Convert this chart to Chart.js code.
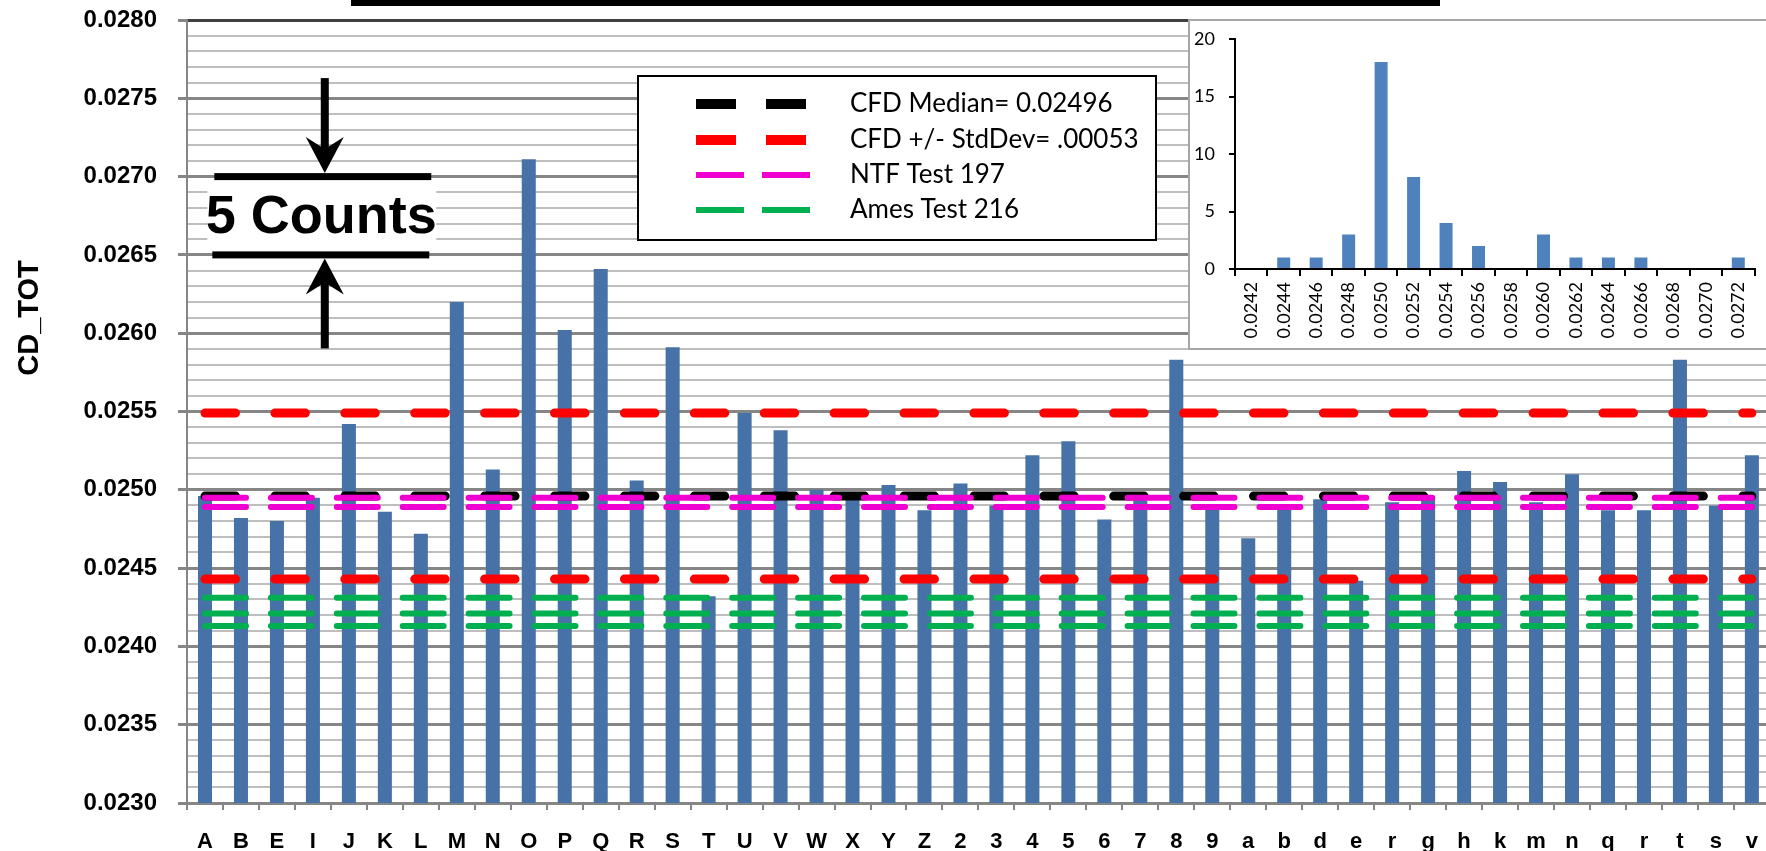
<!DOCTYPE html>
<html>
<head>
<meta charset="utf-8">
<title>CD_TOT by run</title>
<script src="https://cdn.jsdelivr.net/npm/chart.js@4.4.1/dist/chart.umd.min.js"></script>
<style>
html, body { margin: 0; padding: 0; overflow: hidden; background: #fff; }
#wrap { position: relative; width: 1777px; height: 851px; }
#main { position: absolute; left: 0; top: 0; }
#inset-box { position: absolute; left: 1188px; top: 19px; width: 600px; height: 331px;
  background: #fff; border: 2px solid #a6a6a6; box-sizing: border-box; }
#inset { position: absolute; left: 0; top: 0; }
</style>
</head>
<body>
<div id="wrap">
  <canvas id="main" width="1777" height="851"></canvas>
  <div id="inset-box"><canvas id="inset" width="576" height="327"></canvas></div>
</div>
<script>
// run labels along the bottom
const runLabels = ['A', 'B', 'E', 'I', 'J', 'K', 'L', 'M', 'N', 'O', 'P', 'Q', 'R', 'S', 'T', 'U', 'V', 'W', 'X', 'Y', 'Z',
  '2', '3', '4', '5', '6', '7', '8', '9', 'a', 'b', 'd', 'e', 'r', 'g', 'h', 'k', 'm', 'n', 'q', 'r', 't', 's', 'v'];

// CD_TOT per run
const cdTot = [0.02496, 0.02482, 0.02480, 0.02495, 0.02542, 0.02486, 0.02472, 0.02620, 0.02513, 0.02711,
  0.02602, 0.02641, 0.02506, 0.02591, 0.02432, 0.02549, 0.02538, 0.02500, 0.02494, 0.02503, 0.02487,
  0.02504, 0.02490, 0.02522, 0.02531, 0.02481, 0.02493, 0.02583, 0.02491, 0.02469, 0.02490,
  0.02494, 0.02442, 0.02492, 0.02496, 0.02512, 0.02505, 0.02492, 0.02510, 0.02487, 0.02487,
  0.02583, 0.02490, 0.02522];

// reference levels
const cfdMedian = [0.02496];
const cfdStdDevBand = [0.02549, 0.02443];
const ntfTest197 = [0.02495, 0.02489];
const amesTest216 = [0.02431, 0.02421, 0.02413];

const yRange = [0.0230, 0.0280];

// histogram inset
const histBins = ['0.0242', '0.0244', '0.0246', '0.0248', '0.0250', '0.0252', '0.0254', '0.0256',
  '0.0258', '0.0260', '0.0262', '0.0264', '0.0266', '0.0268', '0.0270', '0.0272'];
const histCounts = [0, 1, 1, 3, 18, 8, 4, 2, 0, 3, 1, 1, 1, 0, 0, 1];

const ARIAL = "'Liberation Sans', Arial, sans-serif";
const CALIBRI = "Lato, 'Open Sans', sans-serif";

const isMajor = v => Math.round(v * 10000) % 5 === 0;

// horizontal reference line from the first run to the last
function refLine(label, value, color, width, dash, order, inKey, keyDash) {
    return {
        type: 'line',
        label: label,
        data: [{ x: runLabels[0], y: value }, { x: runLabels[runLabels.length - 1], y: value }],
        borderColor: color,
        borderWidth: width,
        borderDash: dash,
        borderCapStyle: 'round',
        pointRadius: 0,
        fill: false,
        order: order,
        inKey: inKey,
        keyDash: keyDash
    };
}

const datasets = [
    {
        type: 'bar',
        label: 'CD_TOT',
        data: cdTot,
        backgroundColor: '#4672A8',
        barPercentage: 0.39,
        categoryPercentage: 1,
        order: 10
    },
    refLine('CFD Median= 0.02496', cfdMedian[0], '#000000', 9, [30.5, 39.4], 4, true, [40, 30]),
    ...cfdStdDevBand.map((v, i) => refLine('CFD +/- StdDev= .00053', v, '#FF0000', 9, [30.5, 39.4], 3, i === 0, [40, 30])),
    ...ntfTest197.map((v, i) => refLine('NTF Test 197', v, '#F000D0', 6, [41, 24.9], 2, i === 0, [48, 18])),
    ...amesTest216.map((v, i) => refLine('Ames Test 216', v, '#00B050', 6, [41, 24.9], 1, i === 0, [48, 18]))
];

// "5 Counts" marker, x in run-index units, y in CD_TOT units
const countsMark = { text: '5 Counts', from: 0.26, to: 6.29, at: 3.33, textAt: 3.23, hi: 0.0270, lo: 0.0265 };

function drawArrow(ctx, cx, tipY, dir, len) {
    const head = 36, half = 19, notch = 24;
    const a = tipY + dir * notch, b = tipY + dir * len;
    ctx.fillRect(cx - 4, Math.min(a, b), 8, Math.abs(b - a));
    ctx.beginPath();
    ctx.moveTo(cx, tipY);
    ctx.lineTo(cx - half, tipY + dir * head);
    ctx.lineTo(cx, tipY + dir * notch);
    ctx.lineTo(cx + half, tipY + dir * head);
    ctx.closePath();
    ctx.fill();
}

const overlay = {
    id: 'overlay',
    afterDraw(chart) {
        const ctx = chart.ctx;
        const xs = chart.scales.x, ys = chart.scales.y;
        ctx.save();

        // edge of the title box cut off at the top
        ctx.fillStyle = '#000';
        ctx.fillRect(351, 0, 1089, 6);

        // y axis title
        ctx.save();
        ctx.translate(30, 318);
        ctx.rotate(-Math.PI / 2);
        ctx.font = 'bold 29px ' + ARIAL;
        ctx.textAlign = 'center';
        ctx.textBaseline = 'middle';
        ctx.fillText('CD_TOT', 0, 0);
        ctx.restore();

        // 5 counts marker
        const x0 = xs.getPixelForValue(countsMark.from), x1 = xs.getPixelForValue(countsMark.to);
        const cx = xs.getPixelForValue(countsMark.at);
        const yHi = ys.getPixelForValue(countsMark.hi), yLo = ys.getPixelForValue(countsMark.lo);
        ctx.fillStyle = '#fff';
        ctx.fillRect(x0 - 7, yHi + 4, x1 - x0 + 12, yLo - yHi - 8);
        ctx.fillStyle = '#000';
        ctx.fillRect(x0, yHi - 3.5, x1 - x0, 7);
        ctx.fillRect(x0 - 2, yLo - 3.5, x1 - x0, 7);
        ctx.font = 'bold 54px ' + ARIAL;
        ctx.textAlign = 'center';
        ctx.textBaseline = 'middle';
        ctx.fillText(countsMark.text, xs.getPixelForValue(countsMark.textAt), (yHi + yLo) / 2 + 2);
        drawArrow(ctx, cx, yHi - 3.5, -1, 95);
        drawArrow(ctx, cx, yLo + 3.5, 1, 90);

        // key box
        const box = { left: 638, top: 76, right: 1156, bottom: 240 };
        ctx.fillStyle = '#fff';
        ctx.fillRect(box.left, box.top, box.right - box.left, box.bottom - box.top);
        ctx.strokeStyle = '#000';
        ctx.lineWidth = 2;
        ctx.strokeRect(box.left, box.top, box.right - box.left, box.bottom - box.top);
        const rows = [104, 140, 175, 210];
        const items = chart.data.datasets.filter(d => d.inKey);
        ctx.font = '26px ' + CALIBRI;
        ctx.textAlign = 'left';
        ctx.textBaseline = 'middle';
        items.forEach((d, i) => {
            const y = rows[i];
            const [len, gap] = d.keyDash;
            ctx.strokeStyle = d.borderColor;
            ctx.lineWidth = d.borderWidth >= 8 ? 10 : 6;
            ctx.lineCap = 'butt';
            ctx.setLineDash([len, gap]);
            ctx.beginPath();
            ctx.moveTo(696, y);
            ctx.lineTo(696 + 2 * len + gap, y);
            ctx.stroke();
            ctx.setLineDash([]);
            ctx.fillStyle = '#000';
            ctx.fillText(d.label, 850, y);
        });
        ctx.restore();
    }
};

new Chart(document.getElementById('main'), {
    data: { labels: runLabels, datasets: datasets },
    options: {
        responsive: false,
        animation: false,
        layout: { padding: { top: 20, right: 0, bottom: 0, left: 0 } },
        plugins: { legend: { display: false }, tooltip: { enabled: false } },
        scales: {
            x: {
                afterFit: s => { s.height = 48; },
                border: { display: true, color: '#868686', width: 3 },
                grid: { drawOnChartArea: false, drawTicks: true, tickLength: 7, color: '#868686', lineWidth: 2, offset: true },
                ticks: { autoSkip: false, maxRotation: 0, padding: 19, color: '#000',
                    font: { family: ARIAL, size: 22, weight: 'bold' } }
            },
            y: {
                min: yRange[0],
                max: yRange[1],
                afterFit: s => { s.width = 187; s.paddingTop = 0; s.paddingBottom = 0; },
                border: { display: true, color: '#868686', width: 2 },
                grid: {
                    color: c => {
                        const v = c.tick.value;
                        if (Math.abs(v - yRange[1]) < 1e-7) return '#404040';
                        return isMajor(v) ? '#868686' : '#BEBEBE';
                    },
                    lineWidth: c => isMajor(c.tick.value) ? 3 : 2,
                    tickLength: 9,
                    tickColor: c => isMajor(c.tick.value) ? '#868686' : 'rgba(0,0,0,0)',
                    tickWidth: 3
                },
                ticks: {
                    stepSize: 0.0001,
                    autoSkip: false,
                    padding: 21,
                    color: '#000',
                    font: { family: ARIAL, size: 24, weight: 'bold' },
                    callback: v => isMajor(v) ? v.toFixed(4) : ''
                }
            }
        }
    },
    plugins: [overlay]
});

new Chart(document.getElementById('inset'), {
    type: 'bar',
    data: {
        labels: histBins,
        datasets: [{ data: histCounts, backgroundColor: '#4F81BD', barPercentage: 0.4, categoryPercentage: 1 }]
    },
    options: {
        responsive: false,
        animation: false,
        layout: { padding: { top: 18, right: 3, left: 0, bottom: 0 } },
        plugins: { legend: { display: false }, tooltip: { enabled: false } },
        scales: {
            x: {
                afterFit: s => { s.height = 79; },
                border: { display: true, color: '#000', width: 2 },
                grid: { drawOnChartArea: false, tickLength: 7, color: '#000', lineWidth: 2, offset: true },
                ticks: { autoSkip: false, minRotation: 90, maxRotation: 90, padding: 6, color: '#000',
                    font: { family: CALIBRI, size: 18 } }
            },
            y: {
                min: 0,
                max: 20,
                afterFit: s => { s.width = 45; s.paddingTop = 0; s.paddingBottom = 0; },
                border: { display: true, color: '#000', width: 2 },
                grid: { drawOnChartArea: false, tickLength: 6, color: '#000', lineWidth: 2 },
                ticks: { stepSize: 5, padding: 14, color: '#000', font: { family: CALIBRI, size: 18 } }
            }
        }
    }
});
</script>
</body>
</html>
